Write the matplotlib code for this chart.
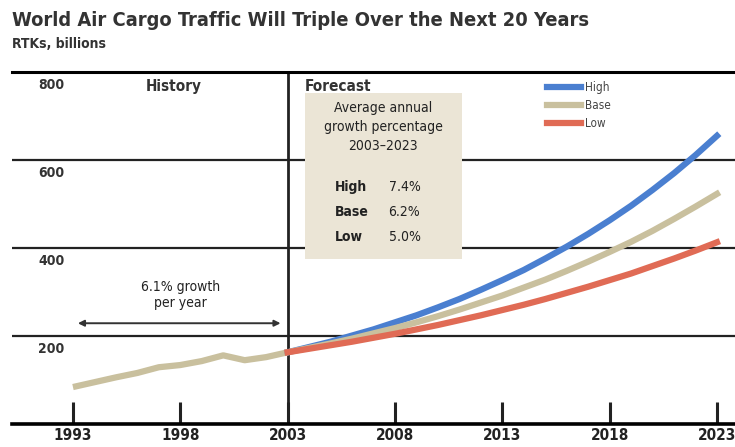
import numpy as np
import matplotlib
matplotlib.use('Agg')
import matplotlib.pyplot as plt
from matplotlib.patches import Rectangle

plt.rcParams['font.family'] = ['DejaVu Sans']
plt.rcParams['font.stretch'] = 'condensed'
plt.rcParams['font.weight'] = 'bold'

# history, RTKs billions
hist_years = list(range(1993, 2004))
hist_vals = [84, 95, 106, 116, 129, 134, 143, 156, 145, 152, 163]

# forecasts 2003-2023
fc_years = list(range(2003, 2024))
high_vals = [163, 175, 187, 201, 215, 231, 247, 265, 284, 305, 327,
             350, 376, 403, 432, 463, 496, 532, 570, 611, 655]
base_vals = [163, 173, 183, 194, 206, 218, 231, 245, 260, 276, 292,
             310, 328, 348, 369, 391, 414, 439, 466, 494, 523]
low_vals = [163, 171, 179, 187, 196, 205, 215, 225, 236, 247, 259,
            271, 284, 298, 312, 327, 342, 359, 376, 394, 413]

growth_labels = ['High', 'Base', 'Low']
growth_rates = ['7.4%', '6.2%', '5.0%']

xticks = [1993, 1998, 2003, 2008, 2013, 2018, 2023]
yticks = [200, 400, 600, 800]

c_high = '#4a7fd0'
c_base = '#c9c09e'
c_low = '#e06b55'

fig = plt.figure(figsize=(7.35, 4.47), dpi=100)
ax = fig.add_axes([12 / 735, 23 / 447, 723 / 735, 352 / 447])
ax.set_xlim(1990.16, 2023.84)
ax.set_ylim(0, 800)

# gridlines and frame
for v in yticks[:-1]:
    ax.axhline(v, color='#222222', lw=1.6, zorder=1)
for s in ['left', 'right']:
    ax.spines[s].set_visible(False)
ax.spines['top'].set_linewidth(2.2)
ax.spines['bottom'].set_linewidth(2.6)
ax.axvline(2003, color='#222222', lw=2, zorder=1)

ax.set_yticks([])
ax.set_xticks(xticks)
ax.set_xticklabels([str(x) for x in xticks], fontsize=11, fontweight='bold',
                   color='#222222')
ax.tick_params(axis='x', direction='in', length=16, width=2.2, pad=3,
               color='#222222')

for v in yticks:
    ax.text(1992.0, v - 14, str(v), ha='center', va='top', fontsize=10,
            fontweight='bold', color='#333333')

ax.text(1997.7, 784, 'History', ha='center', va='top', fontsize=11,
        fontweight='bold', color='#333333')
ax.text(2003.8, 784, 'Forecast', ha='left', va='top', fontsize=11,
        fontweight='bold', color='#333333')

# lines
ax.plot(hist_years, hist_vals, color=c_base, lw=4.5, solid_capstyle='butt', zorder=3)
ax.plot(fc_years, high_vals, color=c_high, lw=4.5, label='High', zorder=3)
ax.plot(fc_years, base_vals, color=c_base, lw=4.5, label='Base', zorder=3)
ax.plot(fc_years, low_vals, color=c_low, lw=4.5, label='Low', zorder=4)

leg = ax.legend(loc='upper left', bbox_to_anchor=(0.725, 1.005), frameon=False,
                fontsize=8.5, handlelength=2.9, handletextpad=0.3,
                labelspacing=0.45)
for t in leg.get_texts():
    t.set_color('#444444')
    t.set_fontweight('normal')

# growth box
ax.add_patch(Rectangle((2003.8, 376), 7.3, 376, facecolor='#ebe5d6',
                       edgecolor='none', zorder=2))
ax.text(2007.45, 733, 'Average annual\ngrowth percentage\n2003\u20132023',
        ha='center', va='top', fontsize=10, fontweight='normal',
        color='#222222', linespacing=1.45, zorder=5)
for i, (lab, rate) in enumerate(zip(growth_labels, growth_rates)):
    y = 538 - i * 57
    ax.text(2005.2, y, lab, ha='left', va='center', fontsize=10,
            fontweight='bold', color='#222222', zorder=5)
    ax.text(2007.7, y, rate, ha='left', va='center', fontsize=10,
            fontweight='normal', color='#222222', zorder=5)

# history growth arrow
ax.annotate('', xy=(1993.1, 229), xytext=(2002.8, 229),
            arrowprops=dict(arrowstyle='<|-|>', color='#333333', lw=1.4,
                            mutation_scale=9))
ax.text(1998, 260, '6.1% growth\nper year', ha='center', va='bottom',
        fontsize=10, fontweight='normal', color='#222222', linespacing=1.1)

fig.text(12 / 735, 1 - 20 / 447, 'World Air Cargo Traffic Will Triple Over the Next 20 Years',
         ha='left', va='center', fontsize=14.4, fontweight='bold', color='#333333')
fig.text(12 / 735, 1 - 44 / 447, 'RTKs, billions', ha='left', va='center',
         fontsize=10, fontweight='bold', color='#333333')

fig.savefig('out.png', dpi=100)
